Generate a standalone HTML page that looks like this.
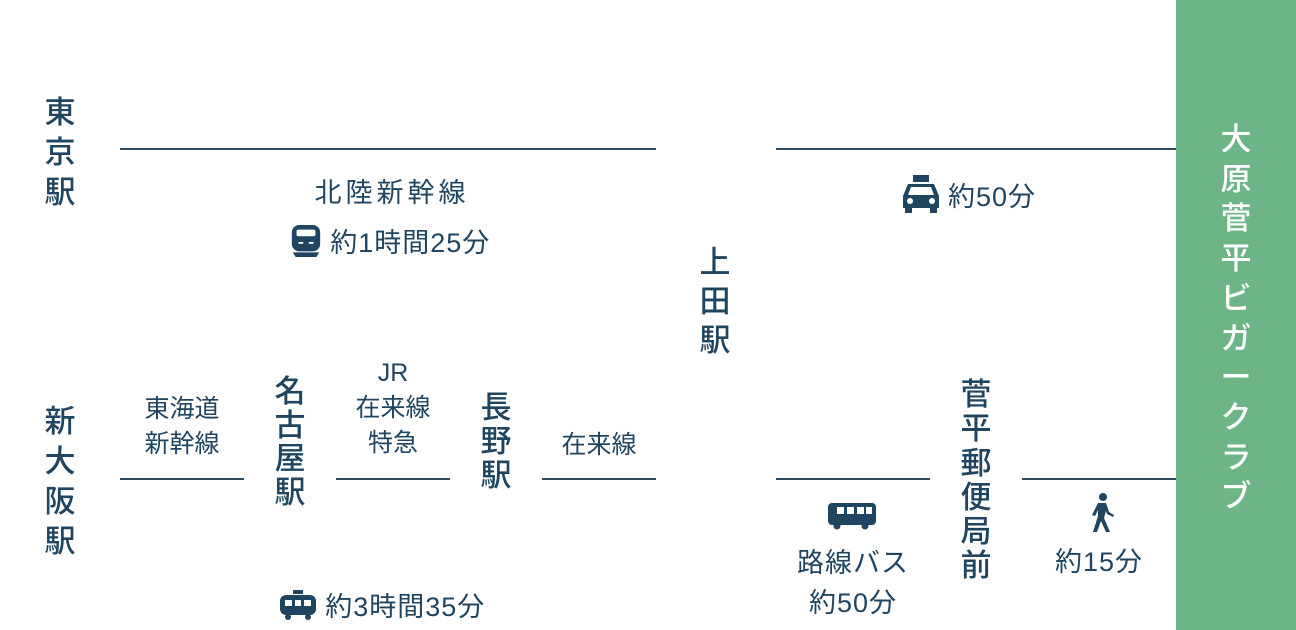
<!DOCTYPE html>
<html><head><meta charset="utf-8"><style>
body{margin:0;width:1296px;height:630px;background:#fff;position:relative;overflow:hidden;font-family:"Liberation Sans","Noto Sans CJK JP",sans-serif;color:#1f4560}
.a{position:absolute}
.l{position:absolute;height:2px;background:#2d4a5e}
.v{position:absolute;font-size:31px;line-height:40px;text-align:center;width:40px;font-weight:500}
.t{position:absolute;font-size:27px;line-height:40px;text-align:center;white-space:nowrap;letter-spacing:1px}
.s{position:absolute;font-size:25px;line-height:35px;text-align:center;white-space:nowrap}
</style></head><body>
<div class="a" style="left:1176px;top:0;width:120px;height:630px;background:#6db487"></div>
<div class="v" style="left:1216px;top:120px;color:#fff;line-height:39.7px;font-size:31px">大<br>原<br>菅<br>平<br>ビ<br>ガ<br>ー<br>ク<br>ラ<br>ブ</div>

<div class="l" style="left:120px;top:148px;width:536px"></div>
<div class="l" style="left:776px;top:148px;width:400px"></div>
<div class="l" style="left:120px;top:478px;width:124px"></div>
<div class="l" style="left:336px;top:478px;width:114px"></div>
<div class="l" style="left:542px;top:478px;width:114px"></div>
<div class="l" style="left:776px;top:478px;width:154px"></div>
<div class="l" style="left:1022px;top:478px;width:154px"></div>

<div class="v" style="left:40px;top:93px">東<br>京<br>駅</div>
<div class="v" style="left:40px;top:402px">新<br>大<br>阪<br>駅</div>
<div class="v" style="left:695px;top:243px;line-height:39px">上<br>田<br>駅</div>
<div class="v" style="left:270px;top:375px;line-height:33.5px">名<br>古<br>屋<br>駅</div>
<div class="v" style="left:476px;top:391px;line-height:34px">長<br>野<br>駅</div>
<div class="v" style="left:956px;top:378px;line-height:34.3px">菅<br>平<br>郵<br>便<br>局<br>前</div>

<div class="t" style="left:292px;top:173px;width:200px;letter-spacing:4px">北陸新幹線</div>
<div class="t" style="left:270px;top:223px;width:240px"><svg width="32" height="34" viewBox="0 0 32 36" style="vertical-align:-6px"><rect x="1" y="1" width="30" height="28" rx="8" fill="#1f4560"/><rect x="6" y="6" width="20" height="7" rx="2" fill="#fff"/><rect x="8" y="19" width="5" height="2" fill="#fff"/><rect x="19" y="19" width="5" height="2" fill="#fff"/><path d="M2 30h28l-3 5H5z" fill="#1f4560"/></svg> 約1時間25分</div>
<div class="s" style="left:120px;top:392px;width:124px">東海道<br>新幹線</div>
<div class="s" style="left:336px;top:356px;width:114px">JR<br>在来線<br>特急</div>
<div class="s" style="left:542px;top:428px;width:114px">在来線</div>
<div class="t" style="left:262px;top:587px;width:240px"><svg width="38" height="32" viewBox="0 0 38 32" style="vertical-align:-6px"><rect x="14" y="0" width="10" height="4" fill="#1f4560"/><rect x="1" y="5" width="36" height="20" rx="6" fill="#1f4560"/><rect x="6" y="10" width="7" height="6" fill="#fff"/><rect x="16" y="10" width="6" height="6" fill="#fff"/><rect x="25" y="10" width="7" height="6" fill="#fff"/><circle cx="9" cy="27" r="3" fill="#1f4560"/><circle cx="29" cy="27" r="3" fill="#1f4560"/></svg> 約3時間35分</div>

<svg class="a" style="left:900px;top:174px" width="42" height="40" viewBox="0 0 42 40"><rect x="13" y="1" width="16" height="7" fill="#1f4560"/><path d="M8 10h26l5 12v12H3V22z" fill="#1f4560"/><path d="M11 13h20l3 8H8z" fill="#fff"/><circle cx="10" cy="27" r="3" fill="#fff"/><circle cx="32" cy="27" r="3" fill="#fff"/><rect x="5" y="33" width="7" height="6" fill="#1f4560"/><rect x="30" y="33" width="7" height="6" fill="#1f4560"/></svg>
<div class="t" style="left:948px;top:177px;width:110px;text-align:left">約50分</div>
<svg class="a" style="left:827px;top:502px" width="50" height="28" viewBox="0 0 50 28"><rect x="1" y="1" width="48" height="22" rx="4" fill="#1f4560"/><rect x="10" y="5" width="7" height="7" fill="#fff"/><rect x="20" y="5" width="7" height="7" fill="#fff"/><rect x="30" y="5" width="7" height="7" fill="#fff"/><rect x="39" y="5" width="6" height="7" fill="#fff"/><circle cx="10" cy="24" r="3.5" fill="#1f4560"/><circle cx="38" cy="24" r="3.5" fill="#1f4560"/></svg>
<div class="t" style="left:766px;top:543px;width:174px">路線バス<br>約50分</div>
<svg class="a" style="left:1088px;top:492px" width="28" height="42" viewBox="0 0 28 42"><circle cx="15" cy="5" r="4" fill="#1f4560"/><path d="M10 11h8l3 9 5 3-1 2-6-3-1-3-2 7 6 14h-4l-5-11-4 11H5l5-16V18l-3 6-3-1z" fill="#1f4560"/></svg>
<div class="t" style="left:1022px;top:542px;width:154px">約15分</div>
</body></html>
